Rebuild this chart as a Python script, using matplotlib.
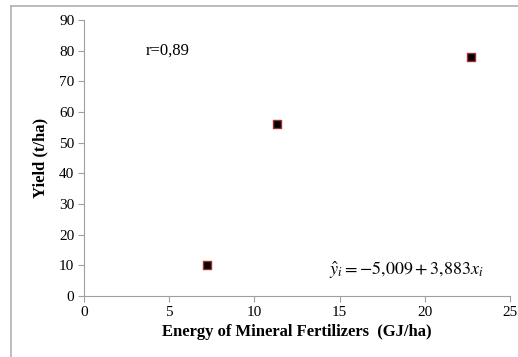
import matplotlib
matplotlib.use("Agg")
import matplotlib.pyplot as plt
from matplotlib.lines import Line2D

plt.rcParams['font.family'] = ['Liberation Serif', 'DejaVu Serif']
plt.rcParams['mathtext.fontset'] = 'stix'

# data
energy = [7.2, 11.3, 22.7]
yield_t = [10, 56, 78]
x_ticks = [0, 5, 10, 15, 20, 25]
y_ticks = [0, 10, 20, 30, 40, 50, 60, 70, 80, 90]

fig = plt.figure(figsize=(5.18, 3.57), dpi=100)
ax = fig.add_axes([84 / 518, 1 - 296 / 357, (510 - 84) / 518, (296 - 20) / 357])

ax.scatter(energy, yield_t, marker='s', s=38, c='black', edgecolors='#a03030',
           linewidths=1.0, zorder=3)

ax.set_xlim(0, 25)
ax.set_ylim(0, 90)
ax.set_xticks(x_ticks)
ax.set_yticks(y_ticks)
for side in ['top', 'right']:
    ax.spines[side].set_visible(False)
for side in ['left', 'bottom']:
    ax.spines[side].set_color('#a0a0a0')
ax.tick_params(direction='out', length=4, color='#a0a0a0', labelsize=11, pad=3)

ax.set_xlabel('Energy of Mineral Fertilizers  (GJ/ha)', fontsize=12,
              fontweight='bold', labelpad=4)
ax.set_ylabel('Yield (t/ha)', fontsize=12, fontweight='bold', labelpad=8)

ax.text(3.6, 80, 'r=0,89', fontsize=12, va='center', ha='left')
ax.text(14.4, 8.5, r'$\hat{y}_i = -5{,}009 + 3{,}883x_i$', fontsize=13,
        va='center', ha='left')

# outer frame of the chart area (partly cropped)
fig.add_artist(Line2D([11 / 518, 11 / 518], [0, 1 - 6 / 357],
                      color='#b0b0b0', lw=1.2, transform=fig.transFigure))
fig.add_artist(Line2D([11 / 518, 1], [1 - 6 / 357, 1 - 6 / 357],
                      color='#b0b0b0', lw=1.2, transform=fig.transFigure))

fig.savefig('out.png', dpi=100)
